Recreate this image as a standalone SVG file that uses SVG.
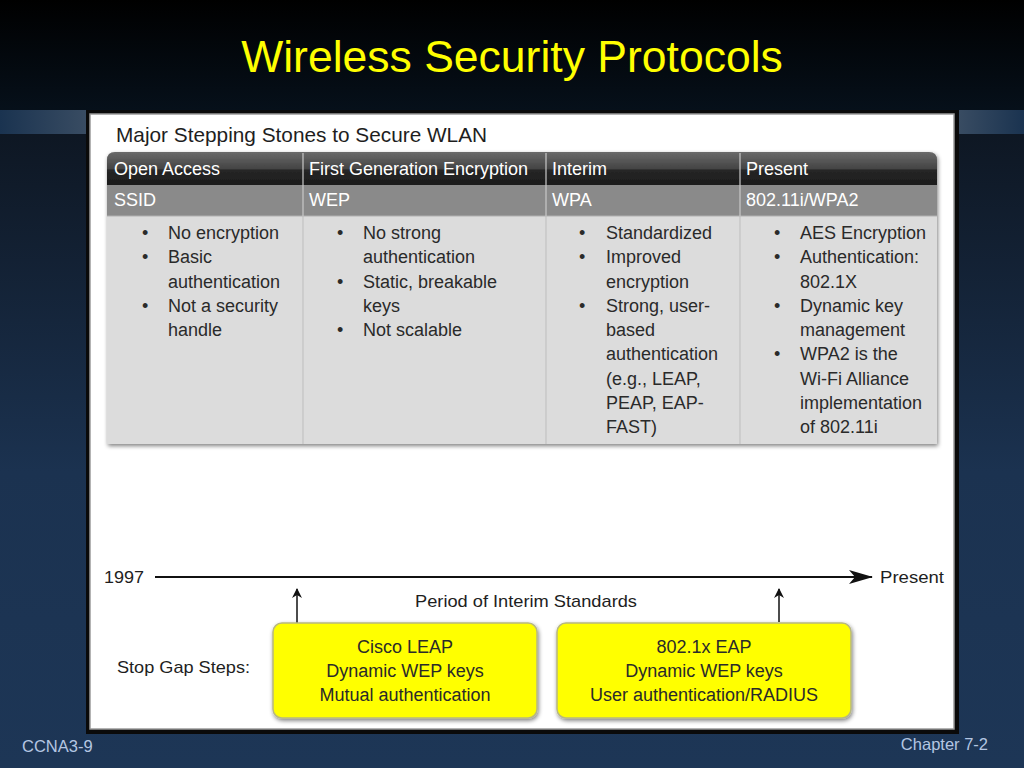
<svg xmlns="http://www.w3.org/2000/svg" width="1024" height="768" viewBox="0 0 1024 768">
<defs>
<linearGradient id="topbg" x1="0" y1="0" x2="0" y2="1">
<stop offset="0" stop-color="#000000"/>
<stop offset="1" stop-color="#06101a"/>
</linearGradient>
<linearGradient id="mainbg" x1="0" y1="0" x2="0" y2="1">
<stop offset="0" stop-color="#0d1520"/>
<stop offset="0.55" stop-color="#1b3250"/>
<stop offset="1" stop-color="#1d3656"/>
</linearGradient>
<linearGradient id="bandL" x1="0" y1="0" x2="1" y2="0">
<stop offset="0" stop-color="#1a3350"/>
<stop offset="1" stop-color="#3a4d63"/>
</linearGradient>
<linearGradient id="bandR" x1="0" y1="0" x2="1" y2="0">
<stop offset="0" stop-color="#3a4d63"/>
<stop offset="1" stop-color="#1a3350"/>
</linearGradient>
<linearGradient id="hdr" x1="0" y1="0" x2="0" y2="1">
<stop offset="0" stop-color="#6a6a6a"/>
<stop offset="0.5" stop-color="#444444"/>
<stop offset="0.55" stop-color="#262626"/>
<stop offset="1" stop-color="#1c1c1c"/>
</linearGradient>
<filter id="sh" x="-5%" y="-5%" width="110%" height="115%">
<feGaussianBlur in="SourceAlpha" stdDeviation="2"/>
<feOffset dx="1" dy="2"/>
<feComponentTransfer><feFuncA type="linear" slope="0.5"/></feComponentTransfer>
<feMerge><feMergeNode/><feMergeNode in="SourceGraphic"/></feMerge>
</filter>
<marker id="arr" markerWidth="10" markerHeight="10" refX="9" refY="5" orient="auto" markerUnits="userSpaceOnUse">
<path d="M0,0 L10,5 L0,10 L3,5 Z" fill="#111"/>
</marker>
<marker id="arrBig" markerWidth="24" markerHeight="14" refX="23" refY="7" orient="auto" markerUnits="userSpaceOnUse">
<path d="M0,0 L24,7 L0,14 L6,7 Z" fill="#111"/>
</marker>
</defs>
<style>
.t{font-family:"Liberation Sans",Arial,sans-serif}
.hd{font-family:"Liberation Sans",Arial,sans-serif;font-size:18px;fill:#ffffff}
.bd{font-family:"Liberation Sans",Arial,sans-serif;font-size:18px;fill:#2a2a2a}
.bx{font-family:"Liberation Sans",Arial,sans-serif;font-size:18px;fill:#2a2a2a;text-anchor:middle}
.ft{font-family:"Liberation Sans",Arial,sans-serif;font-size:16.5px;fill:#b4c6e2}
</style>

<!-- background -->
<rect x="0" y="0" width="1024" height="110" fill="url(#topbg)"/>
<rect x="0" y="110" width="1024" height="658" fill="url(#mainbg)"/>
<rect x="0" y="110" width="90" height="24" fill="url(#bandL)"/>
<rect x="956" y="110" width="68" height="24" fill="url(#bandR)"/>

<text x="512" y="72" class="t" font-size="44.5" fill="#ffff00" text-anchor="middle">Wireless Security Protocols</text>

<!-- panel -->
<rect x="86" y="110" width="873" height="624" fill="#0a0a0a"/>
<rect x="90" y="114" width="864" height="615" fill="#ffffff"/>
<rect x="90" y="114" width="864" height="615" fill="none" stroke="#9a9a9a" stroke-width="1.5"/>

<text x="116" y="142" class="t" font-size="20.8" fill="#1e1e1e">Major Stepping Stones to Secure WLAN</text>

<!-- table -->
<g id="table" filter="url(#sh)">
<path d="M107,160 Q107,152 115,152 L929,152 Q937,152 937,160 L937,444 L107,444 Z" fill="#dcdcdc"/>
<path d="M107,160 Q107,152 115,152 L929,152 Q937,152 937,160 L937,185 L107,185 Z" fill="url(#hdr)"/>
<rect x="107" y="185" width="830" height="31" fill="#8a8a8a"/>
<line x1="107" y1="216" x2="937" y2="216" stroke="#b0b0b0" stroke-width="1"/>
<g stroke="#c8c8c8" stroke-width="1.2">
<line x1="303" y1="153" x2="303" y2="216"/>
<line x1="546" y1="153" x2="546" y2="216"/>
<line x1="740" y1="153" x2="740" y2="216"/>
</g>
<g stroke="#bdbdbd" stroke-width="1">
<line x1="303" y1="216" x2="303" y2="444"/>
<line x1="546" y1="216" x2="546" y2="444"/>
<line x1="740" y1="216" x2="740" y2="444"/>
</g>
</g>

<g id="col1">
<text x="114" y="175" class="hd">Open Access</text>
<text x="114" y="206" class="hd">SSID</text>
<g class="bd">
<text x="142" y="239">•</text><text x="168" y="239">No encryption</text>
<text x="142" y="263">•</text><text x="168" y="263">Basic</text>
<text x="168" y="288">authentication</text>
<text x="142" y="312">•</text><text x="168" y="312">Not a security</text>
<text x="168" y="336">handle</text>
</g>
</g>

<g id="col2">
<text x="309" y="175" class="hd">First Generation Encryption</text>
<text x="309" y="206" class="hd">WEP</text>
<g class="bd">
<text x="337" y="239">•</text><text x="363" y="239">No strong</text>
<text x="363" y="263">authentication</text>
<text x="337" y="288">•</text><text x="363" y="288">Static, breakable</text>
<text x="363" y="312">keys</text>
<text x="337" y="336">•</text><text x="363" y="336">Not scalable</text>
</g>
</g>

<g id="col3">
<text x="552" y="175" class="hd">Interim</text>
<text x="552" y="206" class="hd">WPA</text>
<g class="bd">
<text x="579" y="239">•</text><text x="606" y="239">Standardized</text>
<text x="579" y="263">•</text><text x="606" y="263">Improved</text>
<text x="606" y="288">encryption</text>
<text x="579" y="312">•</text><text x="606" y="312">Strong, user-</text>
<text x="606" y="336">based</text>
<text x="606" y="360">authentication</text>
<text x="606" y="385">(e.g., LEAP,</text>
<text x="606" y="409">PEAP, EAP-</text>
<text x="606" y="433">FAST)</text>
</g>
</g>

<g id="col4">
<text x="746" y="175" class="hd">Present</text>
<text x="746" y="206" class="hd">802.11i/WPA2</text>
<g class="bd">
<text x="774" y="239">•</text><text x="800" y="239">AES Encryption</text>
<text x="774" y="263">•</text><text x="800" y="263">Authentication:</text>
<text x="800" y="288">802.1X</text>
<text x="774" y="312">•</text><text x="800" y="312">Dynamic key</text>
<text x="800" y="336">management</text>
<text x="774" y="360">•</text><text x="800" y="360">WPA2 is the</text>
<text x="800" y="385">Wi-Fi Alliance</text>
<text x="800" y="409">implementation</text>
<text x="800" y="433">of 802.11i</text>
</g>
</g>

<!-- timeline -->
<g id="connectors" stroke="#111" fill="none">
<line x1="155" y1="577" x2="872" y2="577" stroke-width="2" marker-end="url(#arrBig)"/>
<line x1="297" y1="630" x2="297" y2="589" stroke-width="1.5" marker-end="url(#arr)"/>
<line x1="779" y1="622" x2="779" y2="589" stroke-width="1.5" marker-end="url(#arr)"/>
</g>

<text x="104" y="583" class="t" font-size="17" fill="#1e1e1e" textLength="40" lengthAdjust="spacingAndGlyphs">1997</text>
<text x="880" y="583" class="t" font-size="17" fill="#1e1e1e" textLength="64" lengthAdjust="spacingAndGlyphs">Present</text>
<text x="526" y="607" class="t" font-size="17" fill="#1e1e1e" text-anchor="middle" textLength="222" lengthAdjust="spacingAndGlyphs">Period of Interim Standards</text>
<text x="117" y="673" class="t" font-size="17" fill="#1e1e1e" textLength="133" lengthAdjust="spacingAndGlyphs">Stop Gap Steps:</text>

<g id="leap">
<rect x="273" y="623" width="264" height="95" rx="9" fill="#ffff00" stroke="#b8b880" stroke-width="1.5" filter="url(#sh)"/>
<text x="405" y="653" class="bx">Cisco LEAP</text>
<text x="405" y="677" class="bx">Dynamic WEP keys</text>
<text x="405" y="701" class="bx">Mutual authentication</text>
</g>

<g id="eap">
<rect x="557" y="623" width="294" height="95" rx="9" fill="#ffff00" stroke="#b8b880" stroke-width="1.5" filter="url(#sh)"/>
<text x="704" y="653" class="bx">802.1x EAP</text>
<text x="704" y="677" class="bx">Dynamic WEP keys</text>
<text x="704" y="701" class="bx">User authentication/RADIUS</text>
</g>

<text x="22" y="752" class="ft">CCNA3-9</text>
<text x="988" y="750" class="ft" text-anchor="end">Chapter 7-2</text>
</svg>
